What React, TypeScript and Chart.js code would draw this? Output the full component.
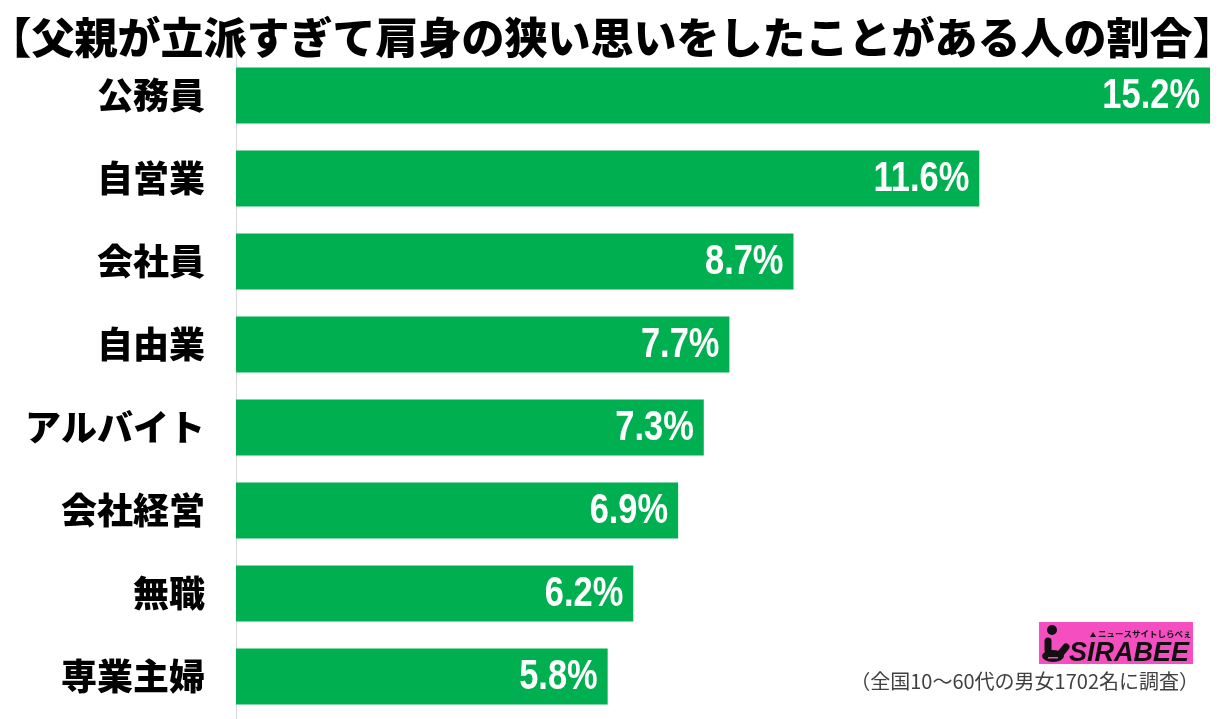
import React, { useEffect, useRef } from "react";
import { Chart, registerables } from "chart.js";

Chart.register(...registerables);

const TITLE = "【父親が立派すぎて肩身の狭い思いをしたことがある人の割合】";
const FOOTNOTE = "（全国10～60代の男女1702名に調査）";
const categories = ["公務員", "自営業", "会社員", "自由業", "アルバイト", "会社経営", "無職", "専業主婦"];
const values = [15.2, 11.6, 8.7, 7.7, 7.3, 6.9, 6.2, 5.8];

const BAR_COLOR = "#00B050";
const JP = '"Noto Sans CJK JP", "Noto Sans", sans-serif';

const decorPlugin = {
  id: "decor",
  afterDraw(chart: any) {
    const { ctx } = chart;
    ctx.save();
    // title
    ctx.fillStyle = "#000";
    ctx.font = `900 43px ${JP}`;
    ctx.textAlign = "center";
    ctx.textBaseline = "middle";
    ctx.fillText(TITLE, chart.width / 2, 38);

    // value labels (condensed bold)
    const meta = chart.getDatasetMeta(0);
    ctx.font = 'bold 42px "Liberation Sans", Arial, sans-serif';
    ctx.fillStyle = "#fff";
    ctx.textAlign = "right";
    ctx.textBaseline = "middle";
    const sx = 0.82;
    meta.data.forEach((bar: any, i: number) => {
      ctx.save();
      ctx.translate(bar.x - 10, bar.y + 1);
      ctx.scale(sx, 1);
      ctx.fillText(values[i].toFixed(1) + "%", 0, 0);
      ctx.restore();
    });

    // logo
    const lx = 1039, ly = 622, lw = 154, lh = 42;
    ctx.fillStyle = "#F54EC0";
    ctx.fillRect(lx, ly, lw, lh);
    ctx.fillStyle = "#111";
    ctx.strokeStyle = "#111";
    ctx.beginPath();
    ctx.arc(lx + 13, ly + 8, 5, 0, Math.PI * 2);
    ctx.fill();
    ctx.lineWidth = 7;
    ctx.lineCap = "round";
    ctx.beginPath();
    ctx.moveTo(lx + 9, ly + 19);
    ctx.lineTo(lx + 9, ly + 28);
    ctx.stroke();
    ctx.beginPath();
    ctx.ellipse(lx + 14, ly + 34, 11, 6, 0, 0, Math.PI * 2);
    ctx.fill();
    ctx.beginPath();
    ctx.moveTo(lx + 22, ly + 31);
    ctx.lineTo(lx + 27, ly + 25);
    ctx.stroke();
    ctx.fillStyle = "#F54EC0";
    ctx.fillRect(lx + 9, ly + 35, 10, 1.5);
    ctx.fillStyle = "#111";
    ctx.font = `bold italic 27px "Liberation Sans", Arial, sans-serif`;
    ctx.textAlign = "left";
    ctx.textBaseline = "alphabetic";
    ctx.fillText("SIRABEE", lx + 30, ly + 39);
    // small tagline
    ctx.beginPath();
    ctx.moveTo(lx + 51, ly + 15);
    ctx.lineTo(lx + 54, ly + 10);
    ctx.lineTo(lx + 57, ly + 15);
    ctx.closePath();
    ctx.fill();
    ctx.font = `bold 8.5px ${JP}`;
    ctx.fillText("ニュースサイトしらべぇ", lx + 59, ly + 15);

    // footnote
    ctx.fillStyle = "#404040";
    ctx.font = `20px ${JP}`;
    ctx.textAlign = "right";
    ctx.textBaseline = "middle";
    ctx.fillText(FOOTNOTE, 1199, 681);
    ctx.restore();
  },
};

export default function App() {
  const ref = useRef<HTMLCanvasElement>(null);
  useEffect(() => {
    document.body.style.margin = "0";
    const chart = new Chart(ref.current!, {
      type: "bar",
      data: {
        labels: categories,
        datasets: [
          {
            data: values,
            backgroundColor: BAR_COLOR,
            categoryPercentage: 1,
            barPercentage: 0.675,
          },
        ],
      },
      options: {
        indexAxis: "y",
        animation: false,
        responsive: true,
        maintainAspectRatio: false,
        devicePixelRatio: 1,
        layout: { padding: { top: 54, bottom: 1, left: 0, right: 14 } },
        plugins: { legend: { display: false }, tooltip: { enabled: false }, title: { display: false } },
        scales: {
          x: { min: 0, max: 15.2, display: false },
          y: {
            grid: { display: false, drawTicks: false },
            border: { display: true, color: "#d9d9d9", width: 1 },
            ticks: {
              color: "#000",
              padding: 31,
              font: { family: JP, size: 36, weight: "900" },
            },
            afterFit(scale: any) {
              scale.width = 236;
              scale.paddingTop = 0;
              scale.paddingBottom = 0;
            },
          },
        },
      },
      plugins: [decorPlugin],
    });
    return () => chart.destroy();
  }, []);
  return (
    <div style={{ position: "absolute", left: 0, top: 0, width: 1224, height: 719, background: "#fff" }}>
      <canvas ref={ref} />
    </div>
  );
}
